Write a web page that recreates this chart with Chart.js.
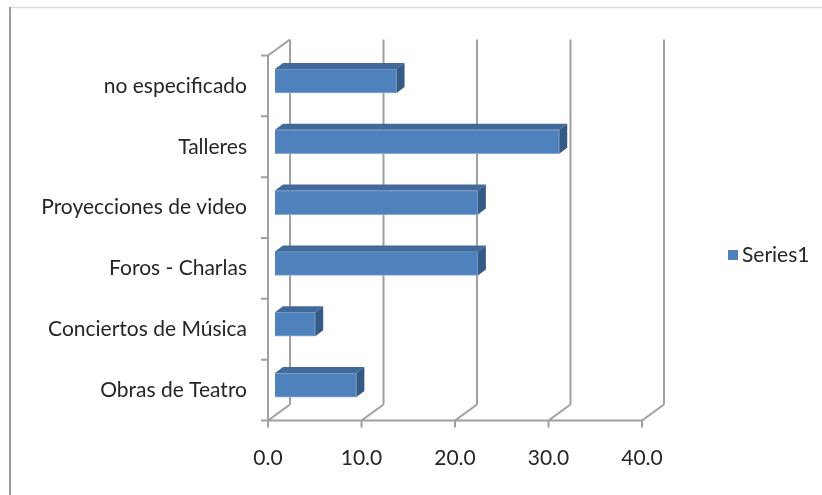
<!DOCTYPE html>
<html>
<head>
<meta charset="utf-8">
<script src="https://cdn.jsdelivr.net/npm/chart.js@4"></script>
<style>
  html, body { margin: 0; padding: 0; background: #fff; }
  #wrap { width: 822px; height: 495px; position: relative; }
</style>
</head>
<body>
<div id="wrap"><canvas id="chart"></canvas></div>
<script>
// categorias (de arriba hacia abajo) y valores en %
const categories = ['no especificado', 'Talleres', 'Proyecciones de video', 'Foros - Charlas', 'Conciertos de Música', 'Obras de Teatro'];
const series1 = [13.0, 30.4, 21.7, 21.7, 4.3, 8.7];
const xTicks = [0, 10, 20, 30, 40];

// desplazamientos de la perspectiva 3D (relativos al plano de las barras)
const FRONT = { x: -7, y: 5 };
const BACK = { x: 15, y: -11 };
const BAR_DEPTH = { x: 8, y: -6 };
const LINE = '#a0a0a0';
const FONT = 'Lato';

// paredes, rejilla y suelo 3D
const wallsPlugin = {
  id: 'walls',
  beforeDatasetsDraw(chart) {
    const ctx = chart.ctx;
    const xs = chart.scales.x;
    const ys = chart.scales.y;
    const { top, bottom } = chart.chartArea;
    const x0 = xs.getPixelForValue(0);

    ctx.save();
    // marco exterior
    ctx.strokeStyle = '#dadada';
    ctx.lineWidth = 1.5;
    ctx.beginPath();
    ctx.moveTo(10, 7.5);
    ctx.lineTo(822, 7.5);
    ctx.stroke();
    ctx.strokeStyle = '#9c9c9c';
    ctx.lineWidth = 2;
    ctx.beginPath();
    ctx.moveTo(10, 7);
    ctx.lineTo(10, 495);
    ctx.stroke();

    ctx.strokeStyle = LINE;
    ctx.lineWidth = 2;
    ctx.beginPath();
    // pared izquierda
    ctx.moveTo(x0 + FRONT.x, top + FRONT.y);
    ctx.lineTo(x0 + FRONT.x, bottom + FRONT.y);
    ctx.moveTo(x0 + FRONT.x, top + FRONT.y);
    ctx.lineTo(x0 + BACK.x, top + BACK.y);
    // marcas de categorias
    const band = (ys.getPixelForValue(1) - ys.getPixelForValue(0));
    for (let i = 0; i <= categories.length; i++) {
      const y = ys.getPixelForValue(i) - band / 2 + FRONT.y;
      ctx.moveTo(x0 + FRONT.x - 7, y);
      ctx.lineTo(x0 + FRONT.x, y);
    }
    // suelo frontal
    const xEnd = xs.getPixelForValue(xTicks[xTicks.length - 1]);
    ctx.moveTo(x0 + FRONT.x - 7, bottom + FRONT.y);
    ctx.lineTo(xEnd + FRONT.x, bottom + FRONT.y);
    xTicks.forEach(v => {
      const x = xs.getPixelForValue(v);
      // marca inferior
      ctx.moveTo(x + FRONT.x, bottom + FRONT.y);
      ctx.lineTo(x + FRONT.x, bottom + FRONT.y + 7);
      // diagonal del suelo
      ctx.moveTo(x + FRONT.x, bottom + FRONT.y);
      ctx.lineTo(x + BACK.x, bottom + BACK.y);
      // rejilla de la pared del fondo
      ctx.moveTo(x + BACK.x, bottom + BACK.y);
      ctx.lineTo(x + BACK.x, top + BACK.y);
    });
    ctx.stroke();
    ctx.restore();
  },
  afterDatasetsDraw(chart) {
    const ctx = chart.ctx;
    const meta = chart.getDatasetMeta(0);
    ctx.save();
    meta.data.forEach(bar => {
      const p = bar.getProps(['x', 'y', 'base', 'height'], true);
      const x0 = p.base, x1 = p.x;
      const yt = p.y - p.height / 2, yb = p.y + p.height / 2;
      // cara superior
      ctx.fillStyle = '#41699a';
      ctx.beginPath();
      ctx.moveTo(x0, yt);
      ctx.lineTo(x0 + BAR_DEPTH.x, yt + BAR_DEPTH.y);
      ctx.lineTo(x1 + BAR_DEPTH.x, yt + BAR_DEPTH.y);
      ctx.lineTo(x1, yt);
      ctx.closePath();
      ctx.fill();
      // cara lateral
      ctx.fillStyle = '#355a86';
      ctx.beginPath();
      ctx.moveTo(x1, yt);
      ctx.lineTo(x1 + BAR_DEPTH.x, yt + BAR_DEPTH.y);
      ctx.lineTo(x1 + BAR_DEPTH.x, yb + BAR_DEPTH.y);
      ctx.lineTo(x1, yb);
      ctx.closePath();
      ctx.fill();
    });
    ctx.restore();
  },
  afterDraw(chart) {
    // leyenda
    const ctx = chart.ctx;
    const ds = chart.data.datasets[0];
    ctx.save();
    ctx.fillStyle = ds.backgroundColor;
    ctx.fillRect(728, 250, 10, 10);
    ctx.fillStyle = '#262626';
    ctx.font = '21px ' + FONT;
    ctx.textBaseline = 'middle';
    ctx.textAlign = 'left';
    ctx.fillText(ds.label, 742, 255);
    ctx.restore();
  }
};

new Chart(document.getElementById('chart'), {
  type: 'bar',
  data: {
    labels: categories,
    datasets: [{
      label: 'Series1',
      data: series1,
      backgroundColor: '#4f81bd',
      borderColor: '#86a9d6',
      borderWidth: 1,
      barThickness: 24
    }]
  },
  options: {
    indexAxis: 'y',
    responsive: true,
    maintainAspectRatio: false,
    animation: false,
    layout: { padding: { top: 50.5, right: 173, bottom: 0, left: 0 } },
    plugins: {
      legend: { display: false },
      tooltip: { enabled: false }
    },
    scales: {
      x: {
        min: 0,
        max: 40,
        afterBuildTicks: scale => { scale.ticks = xTicks.map(v => ({ value: v })); },
        afterFit: scale => { scale.height = 79.5; },
        grid: { display: false, drawTicks: false },
        border: { display: false },
        ticks: {
          padding: 30,
          labelOffset: -7,
          color: '#262626',
          font: { family: FONT, size: 21 },
          callback: v => Number(v).toFixed(1)
        }
      },
      y: {
        afterFit: scale => { scale.width = 275; },
        grid: { display: false, drawTicks: false },
        border: { display: false },
        ticks: {
          padding: 28,
          labelOffset: 5,
          color: '#262626',
          font: { family: FONT, size: 21 }
        }
      }
    }
  },
  plugins: [wallsPlugin]
});
</script>
</body>
</html>
